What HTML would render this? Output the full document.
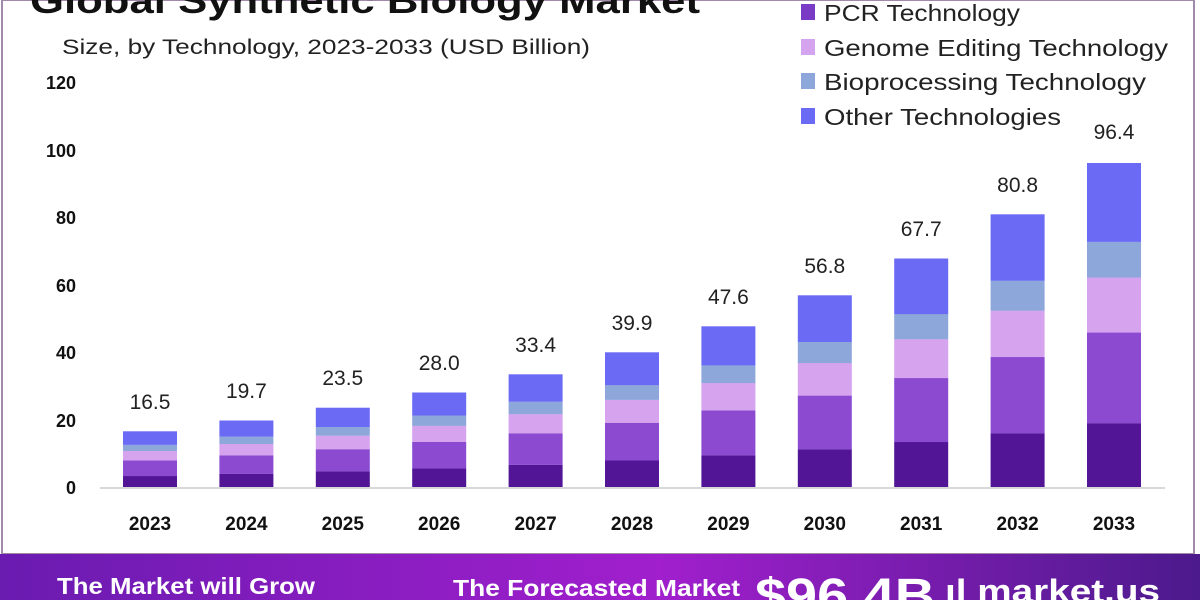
<!DOCTYPE html>
<html><head><meta charset="utf-8"><style>
body{margin:0;width:1200px;height:600px;overflow:hidden;background:#fff;font-family:"Liberation Sans",sans-serif}
</style></head><body>
<svg width="1200" height="600" viewBox="0 0 1200 600" xmlns="http://www.w3.org/2000/svg" font-family="Liberation Sans, sans-serif">
<defs>
<g id="bar">
<rect x="0" y="-0.197" width="54" height="0.197" fill="#521596"/>
<rect x="0" y="-0.477" width="54" height="0.2805" fill="#8b4ad0"/>
<rect x="0" y="-0.647" width="54" height="0.1705" fill="#d6a3ee"/>
<rect x="0" y="-0.757" width="54" height="0.1105" fill="#8ea7da"/>
<rect x="0" y="-1" width="54" height="0.2435" fill="#6b6af5"/>
</g>
<linearGradient id="band" x1="0" x2="1" y1="0" y2="0">
<stop offset="0" stop-color="#6a1bb0"/><stop offset="0.55" stop-color="#a11fcd"/><stop offset="1" stop-color="#4c1a8c"/>
</linearGradient>
</defs>
<rect x="2" y="0" width="1192" height="554" fill="none" stroke="#a08aa8" stroke-width="2"/>
<text x="30" y="13" font-size="36" font-weight="bold" fill="#111" textLength="670" lengthAdjust="spacingAndGlyphs">Global Synthetic Biology Market</text>
<text x="62" y="54" font-size="21" fill="#222" textLength="528" lengthAdjust="spacingAndGlyphs">Size, by Technology, 2023-2033 (USD Billion)</text>
<g font-size="23" fill="#222">
<rect x="801" y="4" width="14" height="16" fill="#7a3cc4"/><text x="824" y="21" textLength="196" lengthAdjust="spacingAndGlyphs">PCR Technology</text>
<rect x="801" y="39" width="14" height="16" fill="#d6a3ee"/><text x="824" y="56" textLength="344" lengthAdjust="spacingAndGlyphs">Genome Editing Technology</text>
<rect x="801" y="73" width="14" height="16" fill="#8ea7da"/><text x="824" y="90" textLength="322" lengthAdjust="spacingAndGlyphs">Bioprocessing Technology</text>
<rect x="801" y="108" width="14" height="16" fill="#6b6af5"/><text x="824" y="125" textLength="237" lengthAdjust="spacingAndGlyphs">Other Technologies</text>
</g>
<g font-size="18" font-weight="bold" fill="#111" text-anchor="end">
<text x="76" y="89">120</text><text x="76" y="157">100</text><text x="76" y="224">80</text>
<text x="76" y="292">60</text><text x="76" y="359">40</text><text x="76" y="427">20</text><text x="76" y="494">0</text>
</g>
<line x1="100" y1="488" x2="1165" y2="488" stroke="#ccc" stroke-width="1.5"/>
<use href="#bar" transform="translate(123,487) scale(1,55.7)"/>
<use href="#bar" transform="translate(219.4,487) scale(1,66.5)"/>
<use href="#bar" transform="translate(315.8,487) scale(1,79.3)"/>
<use href="#bar" transform="translate(412.2,487) scale(1,94.5)"/>
<use href="#bar" transform="translate(508.6,487) scale(1,112.7)"/>
<use href="#bar" transform="translate(605,487) scale(1,134.7)"/>
<use href="#bar" transform="translate(701.4,487) scale(1,160.7)"/>
<use href="#bar" transform="translate(797.8,487) scale(1,191.7)"/>
<use href="#bar" transform="translate(894.2,487) scale(1,228.5)"/>
<use href="#bar" transform="translate(990.6,487) scale(1,272.7)"/>
<use href="#bar" transform="translate(1087,487) scale(1,324)"/>
<g font-size="21" fill="#222" text-anchor="middle">
<text x="150" y="409">16.5</text><text x="246.4" y="398">19.7</text><text x="342.8" y="385">23.5</text>
<text x="439.2" y="370">28.0</text><text x="535.6" y="352">33.4</text><text x="632" y="330">39.9</text>
<text x="728.4" y="304">47.6</text><text x="824.8" y="273">56.8</text><text x="921.2" y="236">67.7</text>
<text x="1017.6" y="192">80.8</text><text x="1114" y="139">96.4</text>
</g>
<g font-size="19" font-weight="bold" fill="#111" text-anchor="middle">
<text x="150" y="530">2023</text><text x="246.4" y="530">2024</text><text x="342.8" y="530">2025</text>
<text x="439.2" y="530">2026</text><text x="535.6" y="530">2027</text><text x="632" y="530">2028</text>
<text x="728.4" y="530">2029</text><text x="824.8" y="530">2030</text><text x="921.2" y="530">2031</text>
<text x="1017.6" y="530">2032</text><text x="1114" y="530">2033</text>
</g>
<rect x="0" y="554" width="1200" height="46" fill="url(#band)"/>
<g fill="#fff" font-weight="bold">
<text x="57" y="594" font-size="23" textLength="258" lengthAdjust="spacingAndGlyphs">The Market will Grow</text>
<text x="453" y="596" font-size="23" textLength="287" lengthAdjust="spacingAndGlyphs">The Forecasted Market</text>
<text x="755" y="612" font-size="48" textLength="180" lengthAdjust="spacingAndGlyphs">$96.4B</text>
<text x="945" y="602" font-size="32" textLength="215" lengthAdjust="spacingAndGlyphs">ıl market.us</text>
</g>
</svg>
</body></html>
